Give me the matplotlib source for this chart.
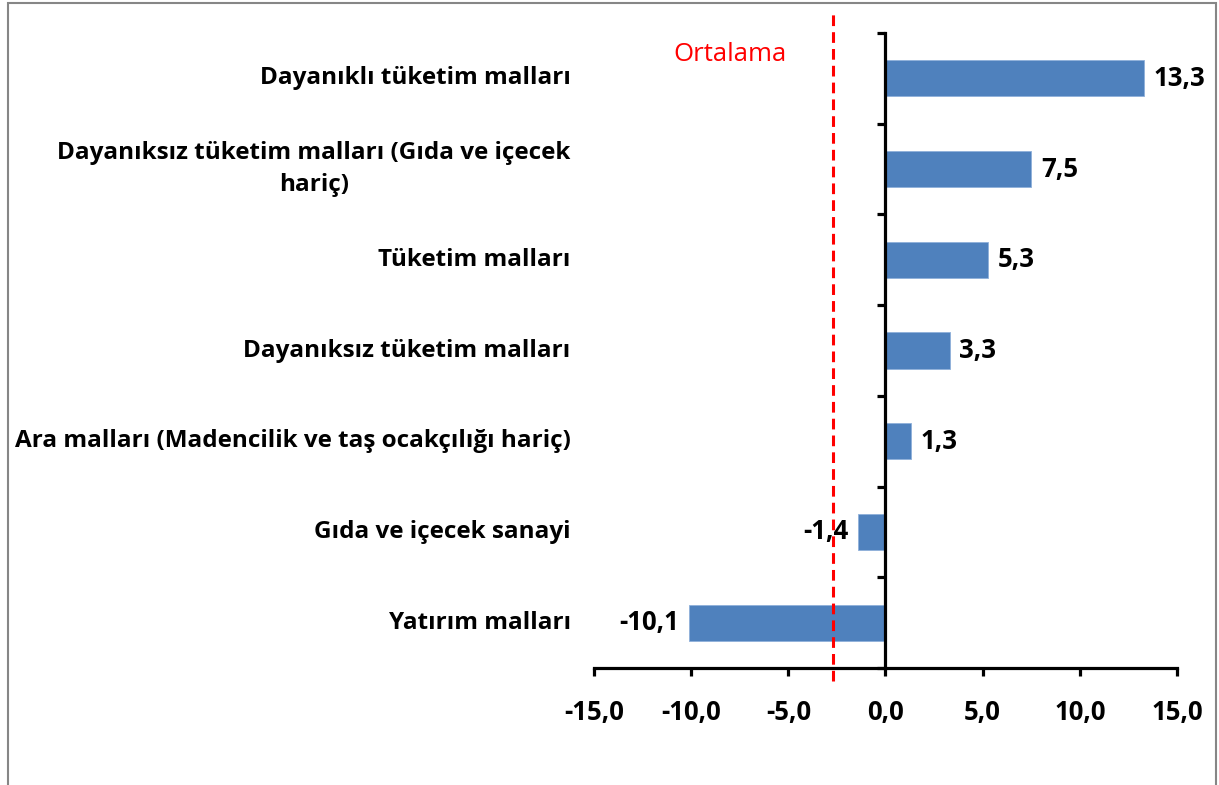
import numpy as np
import matplotlib.pyplot as plt
from matplotlib.patches import Rectangle
from matplotlib.transforms import blended_transform_factory

plt.rcParams['font.family'] = ['Open Sans', 'DejaVu Sans']

categories = [
    "Dayanıklı tüketim malları",
    "Dayanıksız tüketim malları (Gıda ve içecek\nhariç)",
    "Tüketim malları",
    "Dayanıksız tüketim malları",
    "Ara malları (Madencilik ve taş ocakçılığı hariç)",
    "Gıda ve içecek sanayi",
    "Yatırım malları",
]
values = [13.3, 7.5, 5.3, 3.3, 1.3, -1.4, -10.1]
average = -2.7
xticks = [-15, -10, -5, 0, 5, 10, 15]

fig = plt.figure(figsize=(12.19, 7.85), dpi=100)
ax = fig.add_axes([0.4873, 0.149, 0.4782, 0.809])

ypos = np.arange(len(categories))
ax.barh(ypos, values, height=0.4, color='#4F81BD', edgecolor='#8fb0da', linewidth=0.6, zorder=2)

ax.set_xlim(-15, 15)
ax.set_ylim(len(categories) - 0.5, -0.5)

# spines
for s in ['top', 'right']:
    ax.spines[s].set_visible(False)
ax.spines['left'].set_position(('data', 0))
ax.spines['left'].set_linewidth(2.3)
ax.spines['bottom'].set_linewidth(2.3)
ax.spines['left'].set_zorder(3)

# x axis
ax.set_xticks(xticks)
ax.set_xticklabels([f"{t:.1f}".replace('.', ',') for t in xticks],
                   fontsize=18.5, fontweight='bold')
ax.tick_params(axis='x', direction='out', length=6, width=2.3, pad=16)

# y axis: boundary ticks on the spine, labels at the left of the axes
ax.set_yticks(ypos)
ax.set_yticklabels([])
ax.tick_params(axis='y', which='major', length=0)
ax.set_yticks(np.arange(len(categories) + 1) - 0.5, minor=True)
ax.tick_params(axis='y', which='minor', direction='out', length=6, width=2.3)

trans = blended_transform_factory(ax.transAxes, ax.transData)
for y, lab in zip(ypos, categories):
    ax.text(-0.04, y, lab, transform=trans, ha='right', va='center',
            fontsize=17.5, fontweight='bold', multialignment='center',
            linespacing=1.45)

# value labels
for y, v in zip(ypos, values):
    txt = f"{v:.1f}".replace('.', ',')
    if v >= 0:
        ax.annotate(txt, (v, y), xytext=(7, 0), textcoords='offset points',
                    ha='left', va='center', fontsize=18.5, fontweight='bold')
    else:
        ax.annotate(txt, (v, y), xytext=(-7, 0), textcoords='offset points',
                    ha='right', va='center', fontsize=18.5, fontweight='bold', zorder=4)

# average line
ax.axvline(average, ymin=-0.02, ymax=1.03, color='#ff0000', linestyle=(0, (3.5, 2)),
           linewidth=2.2, clip_on=False, zorder=5)
ax.text(-8.0, -0.26, "Ortalama", color='#ff0000', fontsize=18.5,
        ha='center', va='center')

# chart border
fig.add_artist(Rectangle((8 / 1219, -0.05), (1216 - 8) / 1219, 1.05 - 3 / 785,
                         transform=fig.transFigure, fill=False,
                         edgecolor='#868686', linewidth=1.5))

fig.savefig("out.png", dpi=100)
